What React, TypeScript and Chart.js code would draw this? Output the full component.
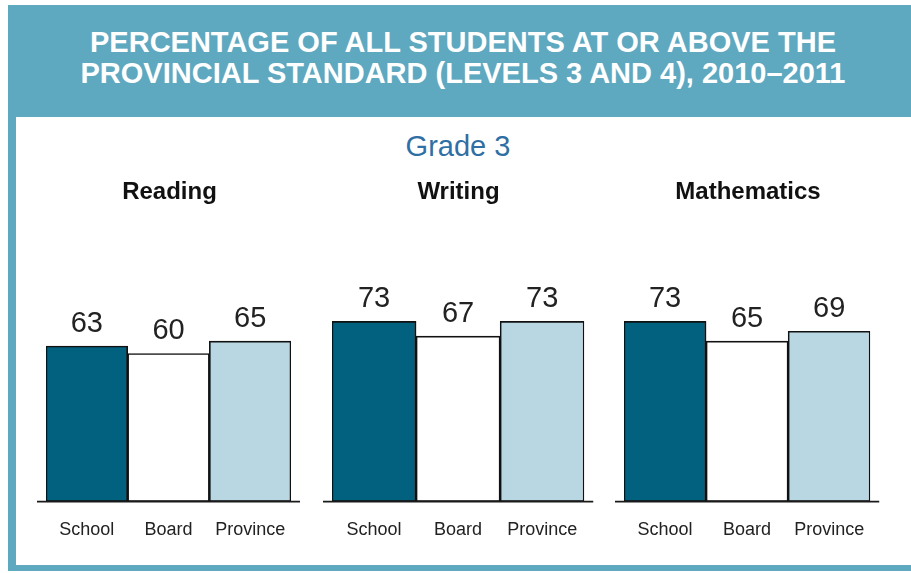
import React, { useEffect, useRef } from "react";
import { Chart, registerables } from "chart.js";

Chart.register(...registerables);

const headerLines = [
  "PERCENTAGE OF ALL STUDENTS AT OR ABOVE THE",
  "PROVINCIAL STANDARD (LEVELS 3 AND 4), 2010\u20132011",
];
const gradeLabel = "Grade 3";
const categories = ["School", "Board", "Province"];
const subjects = ["Reading", "Writing", "Mathematics"];
const readingValues = [63, 60, 65];
const writingValues = [73, 67, 73];
const mathValues = [73, 65, 69];
const seriesValues = [readingValues, writingValues, mathValues];
const yMax = 100;

const FONT = '"Liberation Sans", Arial, Helvetica, sans-serif';
const TEAL = "#5ea8c0";
const barFill = ["#02617f", "#ffffff", "#b9d7e2"];

// canvas placement for each sub-chart: [left, width]
const chartBoxes = [
  [34, 271],
  [320, 277],
  [612, 272],
];
const CANVAS_TOP = 160;
const CANVAS_H = 403;

const baselinePlugin = {
  id: "baseline",
  afterDatasetsDraw(chart: any) {
    const { ctx, chartArea, scales } = chart;
    const y = scales.y.getPixelForValue(0);
    ctx.save();
    ctx.strokeStyle = "#1a1a1a";
    ctx.lineWidth = 1.6;
    ctx.beginPath();
    ctx.moveTo(chartArea.left - 9, y);
    ctx.lineTo(chartArea.right + 9, y);
    ctx.stroke();
    ctx.restore();
  },
};

const valueLabelPlugin = {
  id: "valueLabels",
  afterDatasetsDraw(chart: any) {
    const { ctx } = chart;
    const meta = chart.getDatasetMeta(0);
    const data = chart.data.datasets[0].data;
    ctx.save();
    ctx.fillStyle = "#222222";
    ctx.font = `29px ${FONT}`;
    ctx.textAlign = "center";
    ctx.textBaseline = "alphabetic";
    meta.data.forEach((bar: any, i: number) => {
      ctx.fillText(String(data[i]), bar.x, bar.y - 14);
    });
    ctx.restore();
  },
};

function SubChart({ title, values, box }: { title: string; values: number[]; box: number[] }) {
  const ref = useRef<HTMLCanvasElement | null>(null);
  useEffect(() => {
    if (!ref.current) return;
    const chart = new Chart(ref.current, {
      type: "bar",
      data: {
        labels: categories,
        datasets: [
          {
            data: values,
            backgroundColor: barFill,
            borderColor: "#111111",
            borderWidth: 1.6,
            borderSkipped: false,
            categoryPercentage: 1,
            barPercentage: 1,
          },
        ],
      },
      options: {
        animation: false,
        responsive: false,
        maintainAspectRatio: false,
        devicePixelRatio: 1,
        layout: { padding: { left: 12, right: 12, top: 0, bottom: 4.2 } },
        plugins: {
          legend: { display: false },
          tooltip: { enabled: false },
          title: {
            display: true,
            text: title,
            color: "#111111",
            font: { family: FONT, size: 24, weight: "bold", lineHeight: 1.2 },
            padding: { top: 18.3, bottom: 47.6 },
          },
        },
        scales: {
          x: {
            grid: { display: false, drawTicks: false, tickLength: 0 },
            border: { display: false },
            ticks: {
              color: "#222222",
              font: { family: FONT, size: 18, lineHeight: 1.2 },
              padding: 17.8,
              maxRotation: 0,
            },
          },
          y: {
            display: false,
            min: 0,
            max: yMax,
          },
        },
      },
      plugins: [baselinePlugin, valueLabelPlugin],
    });
    return () => chart.destroy();
  }, [title, values]);
  return (
    <canvas
      ref={ref}
      width={box[1]}
      height={CANVAS_H}
      style={{ position: "absolute", left: box[0], top: CANVAS_TOP, width: box[1], height: CANVAS_H }}
    />
  );
}

export default function App() {
  return (
    <div
      style={{
        position: "absolute",
        left: 0,
        top: 0,
        width: 911,
        height: 573,
        background: "#ffffff",
        overflow: "hidden",
        fontFamily: FONT,
      }}
    >
      <div
        style={{
          position: "absolute",
          left: 8,
          top: 5,
          width: 903,
          height: 112,
          background: TEAL,
          boxSizing: "border-box",
          paddingTop: 21.5,
          paddingLeft: 7,
          textAlign: "center",
          color: "#ffffff",
          fontWeight: "bold",
          fontSize: 29,
          lineHeight: "31px",
          whiteSpace: "nowrap",
        }}
      >
        {headerLines.map((l) => (
          <div key={l}>{l}</div>
        ))}
      </div>
      <div style={{ position: "absolute", left: 8, top: 5, width: 8, height: 566, background: TEAL }} />
      <div style={{ position: "absolute", left: 8, top: 565, width: 903, height: 6, background: TEAL }} />
      <div
        style={{
          position: "absolute",
          left: 358,
          top: 132.2,
          width: 200,
          textAlign: "center",
          color: "#2f6fa3",
          fontSize: 29,
          lineHeight: "29px",
        }}
      >
        {gradeLabel}
      </div>
      {subjects.map((s, i) => (
        <SubChart key={s} title={s} values={seriesValues[i]} box={chartBoxes[i]} />
      ))}
    </div>
  );
}
